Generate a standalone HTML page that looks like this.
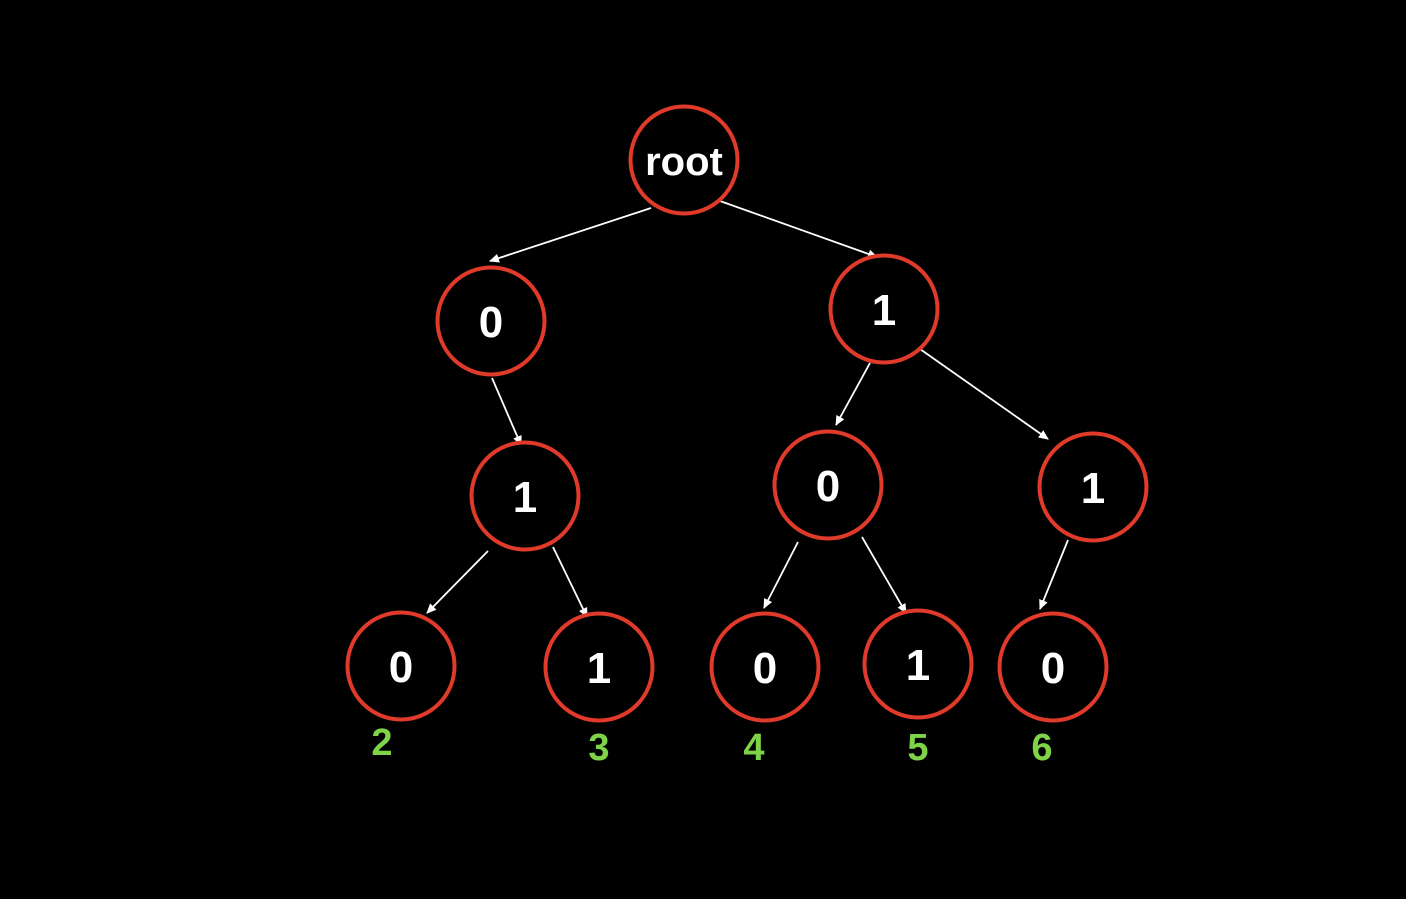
<!DOCTYPE html>
<html><head><style>
html,body{margin:0;padding:0;background:#000;}
</style></head><body>
<svg width="1406" height="894" viewBox="0 0 1406 894" xmlns="http://www.w3.org/2000/svg">
<defs>
<marker id="a" markerWidth="10" markerHeight="10" refX="9" refY="5" orient="auto" markerUnits="userSpaceOnUse">
<path d="M0,0.5 L10,5 L0,9.5 Z" fill="#fff"/>
</marker>
</defs>
<rect width="1406" height="894" fill="#000"/>
<g stroke="#fff" stroke-width="1.8" marker-end="url(#a)">
<line x1="651" y1="208" x2="490" y2="261"/>
<line x1="720" y1="201" x2="877" y2="257"/>
<line x1="492" y1="378" x2="521" y2="445"/>
<line x1="870" y1="363" x2="836" y2="425"/>
<line x1="920" y1="349" x2="1048" y2="439"/>
<line x1="488" y1="551" x2="427" y2="613"/>
<line x1="553" y1="547" x2="587" y2="617"/>
<line x1="798" y1="542" x2="764" y2="608"/>
<line x1="862" y1="537" x2="906" y2="613"/>
<line x1="1068" y1="540" x2="1040" y2="609"/>
</g>
<g fill="#000" stroke="#e03a2a" stroke-width="4">
<circle cx="684" cy="160" r="53.5"/>
<circle cx="491" cy="321" r="53.5"/>
<circle cx="884" cy="309" r="53.5"/>
<circle cx="525" cy="496" r="53.5"/>
<circle cx="828" cy="485" r="53.5"/>
<circle cx="1093" cy="487" r="53.5"/>
<circle cx="401" cy="666" r="53.5"/>
<circle cx="599" cy="667" r="53.5"/>
<circle cx="765" cy="667" r="53.5"/>
<circle cx="918" cy="664" r="53.5"/>
<circle cx="1053" cy="667" r="53.5"/>
</g>
<g fill="#fff" font-family="Liberation Sans, sans-serif" font-weight="bold" text-anchor="middle" font-size="44">
<text x="684" y="175" font-size="40">root</text>
<text x="491" y="337">0</text>
<text x="884" y="325">1</text>
<text x="525" y="512">1</text>
<text x="828" y="501">0</text>
<text x="1093" y="503">1</text>
<text x="401" y="682">0</text>
<text x="599" y="683">1</text>
<text x="765" y="683">0</text>
<text x="918" y="680">1</text>
<text x="1053" y="683">0</text>
</g>
<g fill="#7ed348" font-family="Liberation Sans, sans-serif" font-weight="bold" text-anchor="middle" font-size="38">
<text x="382" y="755">2</text>
<text x="599" y="760">3</text>
<text x="754" y="760">4</text>
<text x="918" y="760">5</text>
<text x="1042" y="760">6</text>
</g>
</svg>
</body></html>
